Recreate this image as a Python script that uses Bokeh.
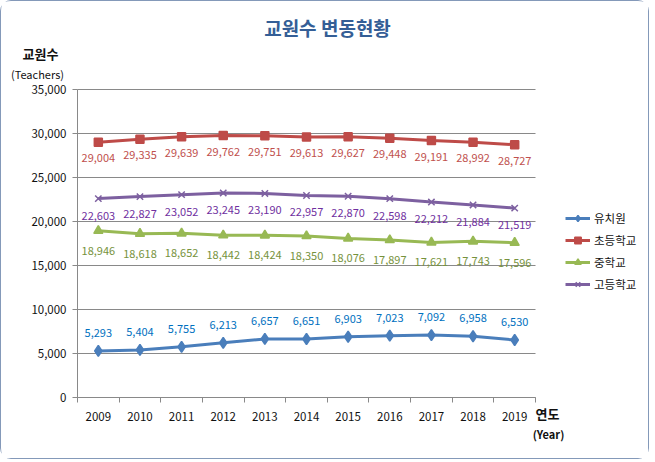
from bokeh.plotting import figure
from bokeh.models import (ColumnDataSource, Range1d, FixedTicker,
                          NumeralTickFormatter, Legend, LegendItem, Label)
from bokeh.core.properties import value
from bokeh.embed import file_html
from bokeh.resources import INLINE

years = [2009, 2010, 2011, 2012, 2013, 2014, 2015, 2016, 2017, 2018, 2019]
kinder = [5293, 5404, 5755, 6213, 6657, 6651, 6903, 7023, 7092, 6958, 6530]
elementary = [29004, 29335, 29639, 29762, 29751, 29613, 29627, 29448, 29191, 28992, 28727]
middle = [18946, 18618, 18652, 18442, 18424, 18350, 18076, 17897, 17621, 17743, 17596]
high = [22603, 22827, 23052, 23245, 23190, 22957, 22870, 22598, 22212, 21884, 21519]
series_names = ["유치원", "초등학교", "중학교", "고등학교"]
y_ticks = [0, 5000, 10000, 15000, 20000, 25000, 30000, 35000]

FONT = "Noto Sans CJK KR"
GRID = "#898989"

# canvas and data-box layout (pixels)
W, H = 649, 459
BOX_L, BOX_R, BOX_T, BOX_B = 76, 534, 88, 396
x_lo, x_hi = years[0] - 0.5, years[-1] + 0.5
y_lo, y_hi = y_ticks[0], y_ticks[-1]
kx = (BOX_R - BOX_L) / (x_hi - x_lo)
ky = (BOX_B - BOX_T) / (y_hi - y_lo)
x_range = Range1d(x_lo - BOX_L / kx, x_hi + (W - BOX_R) / kx)
y_range = Range1d(y_lo - (H - BOX_B) / ky, y_hi + BOX_T / ky)

p = figure(width=W, height=H, output_backend="svg", toolbar_location=None,
           x_range=x_range, y_range=y_range, title=None,
           min_border=0, min_border_left=0, min_border_right=0,
           min_border_top=0, min_border_bottom=0)
p.styles = {"border": "1px solid #8499B9", "border-radius": "11px"}
p.outline_line_color = None
p.background_fill_color = "white"
p.border_fill_color = "white"

p.xgrid.grid_line_color = None
p.ygrid.grid_line_color = GRID
p.ygrid.ticker = FixedTicker(ticks=y_ticks)
if hasattr(p.ygrid[0], "cross_bounds"):
    p.ygrid.cross_bounds = (x_lo, x_hi)

p.yaxis.fixed_location = x_lo
p.yaxis.bounds = (y_lo, y_hi)
p.yaxis.ticker = FixedTicker(ticks=y_ticks)
p.yaxis.formatter = NumeralTickFormatter(format="0,0")
p.yaxis.axis_line_color = GRID
p.yaxis.major_tick_line_color = GRID
p.yaxis.major_tick_out = 5
p.yaxis.major_tick_in = 0
p.yaxis.minor_tick_line_color = None
p.yaxis.major_label_standoff = 6
p.yaxis.major_label_text_font = FONT
p.yaxis.major_label_text_font_size = "11.5px"
p.yaxis.major_label_text_color = "#111111"

p.xaxis.fixed_location = y_lo
p.xaxis.bounds = (x_lo, x_hi)
p.xaxis.ticker = FixedTicker(ticks=years, minor_ticks=[y - 0.5 for y in years] + [x_hi])
p.xaxis.axis_line_color = GRID
p.xaxis.major_tick_line_color = None
p.xaxis.major_tick_out = 0
p.xaxis.major_tick_in = 0
p.xaxis.minor_tick_line_color = GRID
p.xaxis.minor_tick_out = 5
p.xaxis.minor_tick_in = 0
p.xaxis.major_label_standoff = 9
p.xaxis.major_label_text_font = FONT
p.xaxis.major_label_text_font_size = "11.5px"
p.xaxis.major_label_text_color = "#111111"

line_colors = ["#4A7EBB", "#BE4B48", "#98B954", "#7D60A0"]
label_colors = ["#0070C0", "#C0504D", "#76923C", "#7030A0"]
markers = ["diamond", "square", "triangle", "x"]
marker_sizes = [11, 8, 9, 9]
label_offsets = [-18, 16, 20, 17]
all_values = [kinder, elementary, middle, high]

items = []
for name, vals, lc, tc, mk, ms, off in zip(series_names, all_values, line_colors,
                                           label_colors, markers, marker_sizes, label_offsets):
    src = ColumnDataSource(dict(x=years, y=vals, t=[f"{v:,}" for v in vals]))
    ln = p.line("x", "y", source=src, line_color=lc, line_width=3)
    sc = p.scatter("x", "y", source=src, marker=mk, size=ms, fill_color=lc,
                   line_color=lc, line_width=1.5)
    p.text("x", "y", text="t", source=src, y_offset=off, text_align="center",
           text_baseline="middle", text_color=tc, text_font=value(FONT),
           text_font_size="11px")
    items.append(LegendItem(label=name, renderers=[ln, sc]))

# legend: glyph left edge and top edge in canvas pixels
LEG_X, LEG_TOP, LEG_H = 564, 209, 82
legend = Legend(items=items, location=(LEG_X, H - LEG_TOP - LEG_H), orientation="vertical",
                glyph_width=25, glyph_height=16, label_height=16, spacing=6,
                label_standoff=4, padding=0, margin=0, border_line_color=None,
                background_fill_alpha=0, label_text_font=FONT,
                label_text_font_size="11.5px", label_text_color="#111111")
p.add_layout(legend, "center")

def lab(text, px, py, size, bold=False, color="#111111"):
    # px, py: canvas pixels from top-left
    p.add_layout(Label(x=px, y=H - py, x_units="screen", y_units="screen", text=text,
                       text_align="center", text_baseline="middle", text_font=FONT,
                       text_font_size=size, text_font_style="bold" if bold else "normal",
                       text_color=color))

lab("교원수 변동현황", 326, 26, "19px", True, "#345E96")
lab("교원수", 39, 52, "13px", True)
lab("(Teachers)", 36, 72, "11px")
lab("연도", 546, 412, "13px", True)
lab("(Year)", 547, 432, "11px", True)

open("out.html", "w").write(file_html(p, INLINE))
